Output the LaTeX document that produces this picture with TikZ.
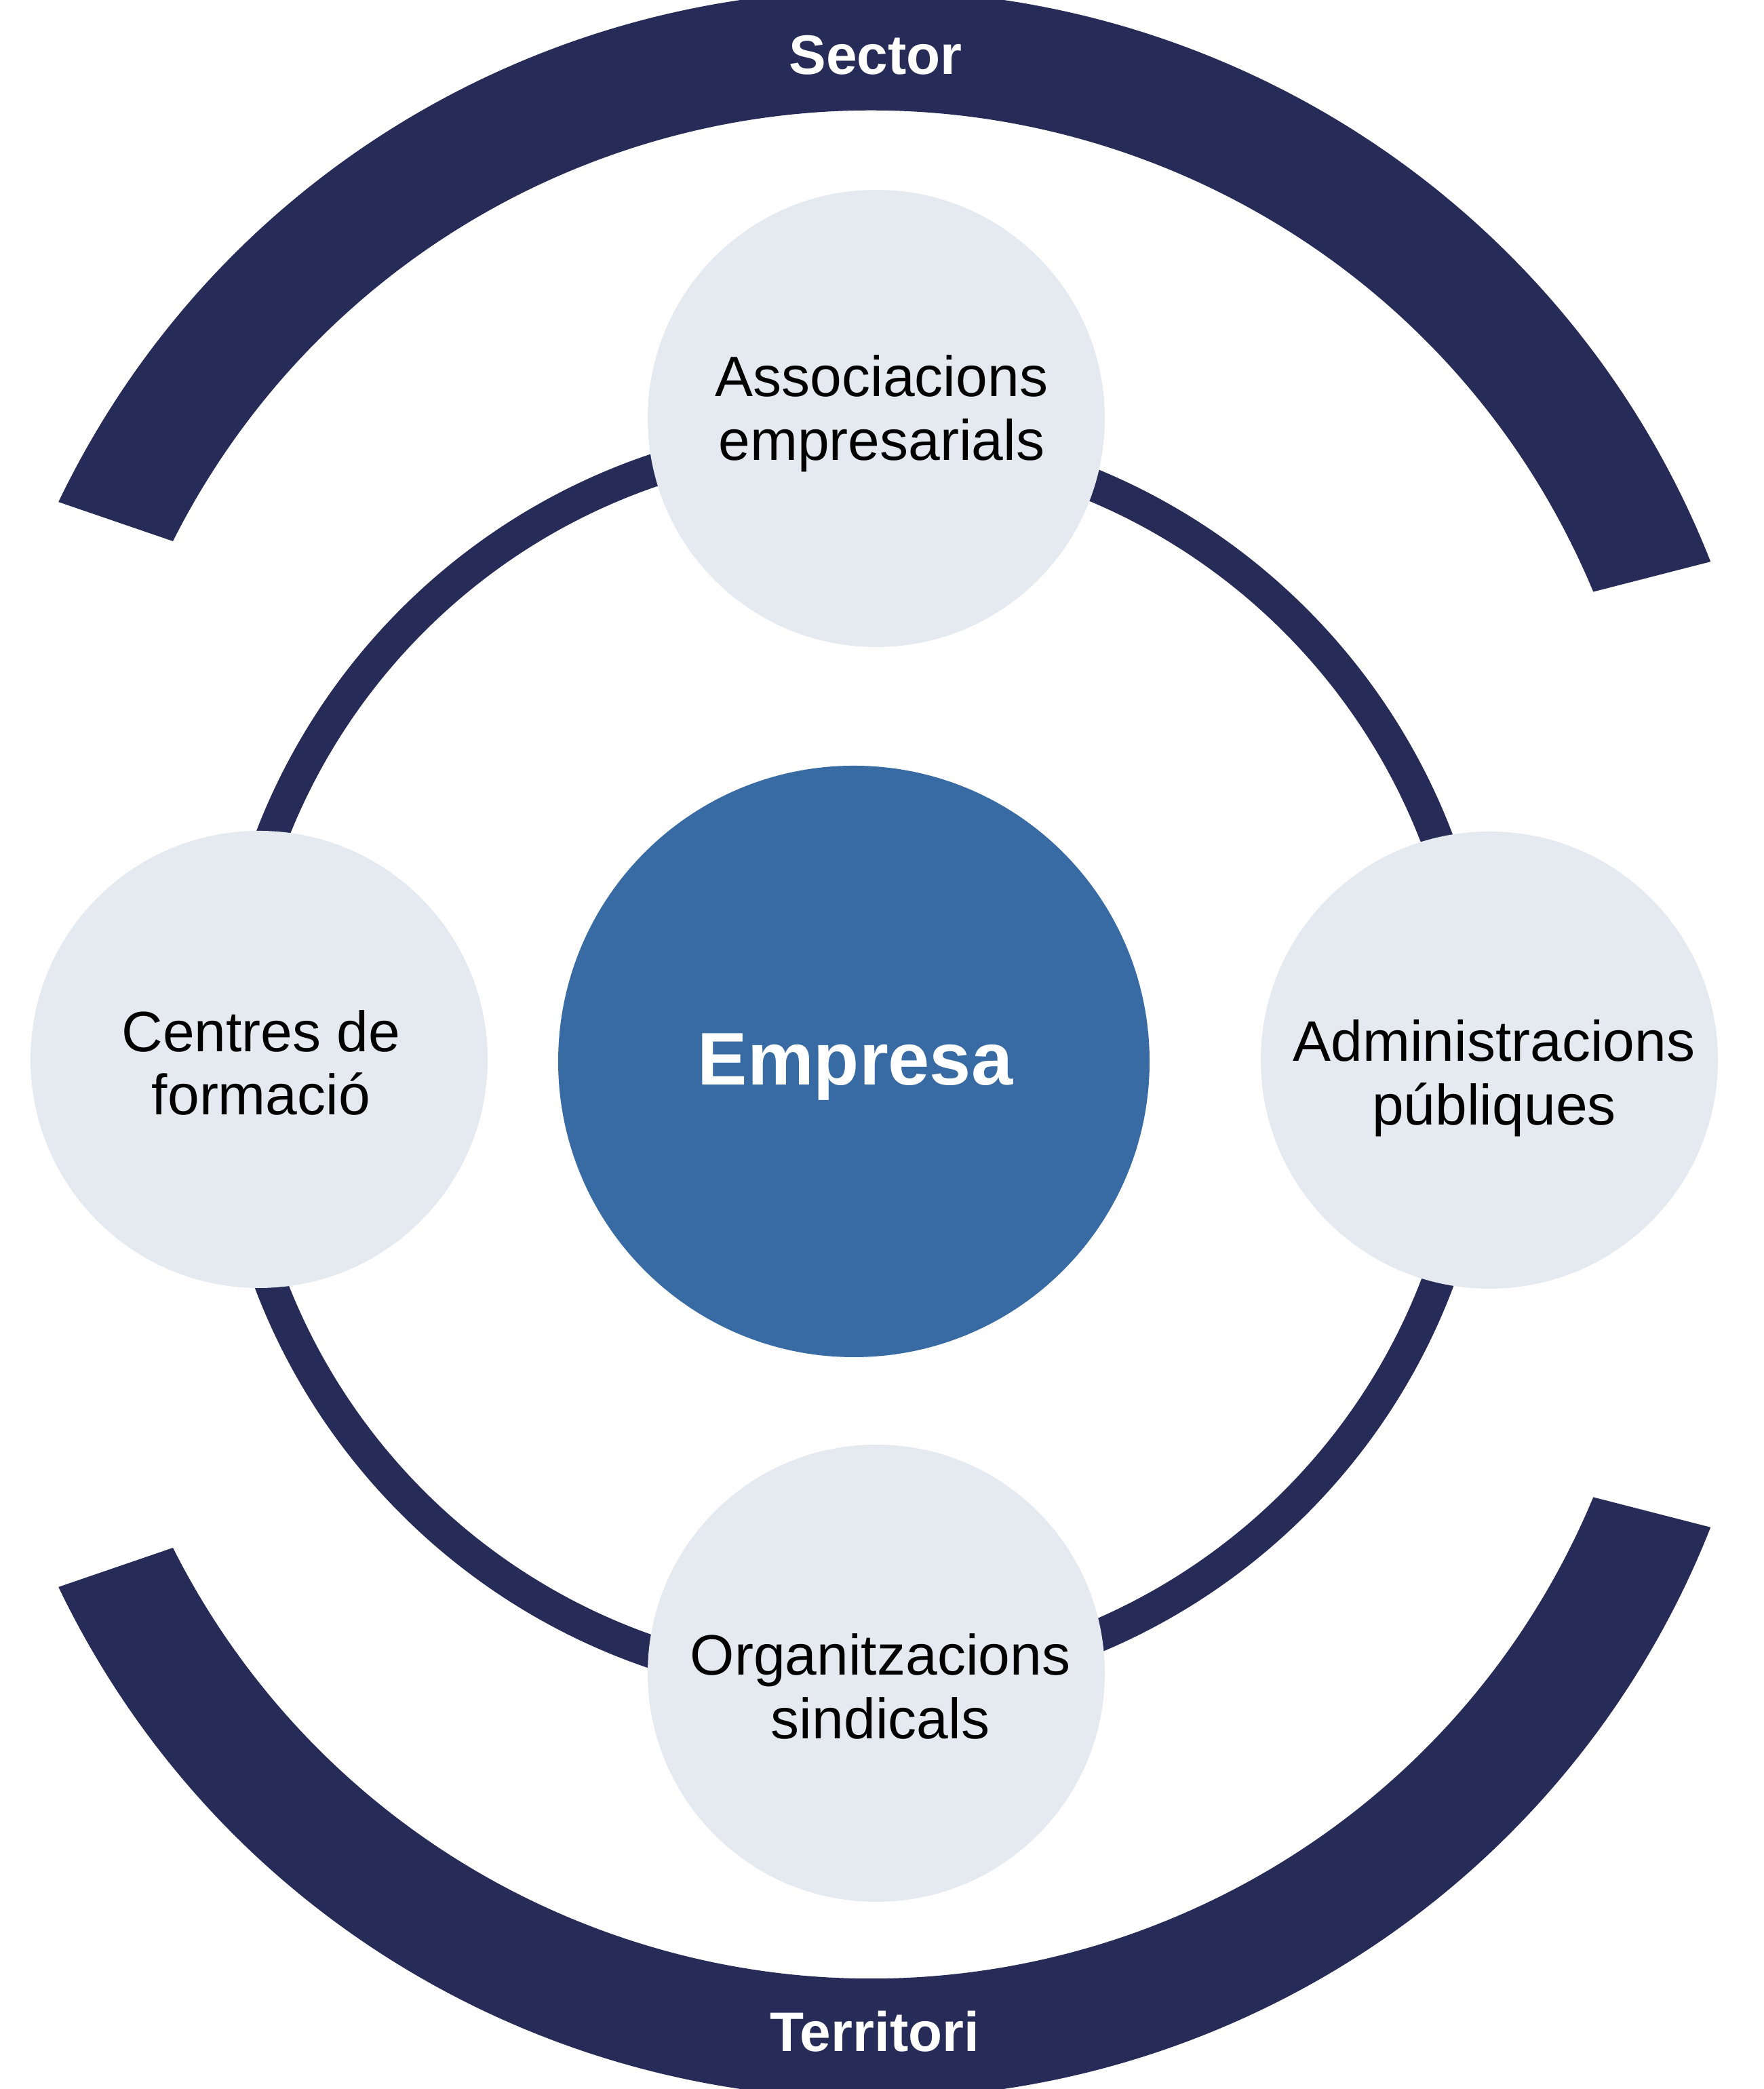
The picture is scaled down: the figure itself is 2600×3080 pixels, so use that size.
\documentclass[tikz,border=0pt]{standalone}
\usepackage{fontspec}
\setmainfont{Liberation Sans}
\definecolor{navy}{HTML}{262C57}
\definecolor{empblue}{HTML}{386BA3}
\definecolor{pale}{HTML}{E5EAF1}
\begin{document}
\begin{tikzpicture}[x=0.25pt,y=0.25pt,
  sat/.style={circle, fill=pale, minimum size=168.5pt, inner sep=0pt},
  core/.style={circle, fill=empblue, minimum size=218pt, inner sep=0pt},
  lbl/.style={anchor=base, inner sep=0pt, text=black, font=\fontsize{21pt}{23.5pt}\selectfont},
  corelbl/.style={anchor=base, inner sep=0pt, text=white, font=\fontsize{27.5pt}{30pt}\selectfont\bfseries},
  band/.style={fill=navy},
  bandlbl/.style={anchor=base, inner sep=0pt, text=white, font=\fontsize{20.5pt}{24pt}\selectfont\bfseries},
  ringline/.style={draw=navy, line width=12pt}]
\useasboundingbox (0,0) rectangle (2600,3080);
\fill[white] (0,0) rectangle (2600,3080);

% outer bands
\fill[band, shift={(1285,1764)}] (154.34:1330) arc[start angle=154.34, end angle=21.52, radius=1330]
  -- (22.62:1153) arc[start angle=22.62, end angle=153.30, radius=1153] -- cycle;
\fill[band, shift={(1285,1316)}] (205.66:1330) arc[start angle=205.66, end angle=338.48, radius=1330]
  -- (337.38:1153) arc[start angle=337.38, end angle=206.70, radius=1153] -- cycle;
\node[bandlbl] (sector) at (1291,2970) {Sector};
\node[bandlbl] (territori) at (1290,55) {Territori};

% centre
\node[core] (emp) at (1259,1515) {};
\draw[ringline] (emp.center) circle[radius=920];
\node[corelbl] (emplbl) at (1261,1480) {Empresa};

% satellites
\node[sat] (top) at (1292,2463) {};
\node[sat] (left) at (382,1518) {};
\node[sat] (right) at (2196,1517) {};
\node[sat] (bottom) at (1292,613) {};

\node[lbl] (top1) at (1300,2495) {Associacions};
\node[lbl] (top2) at (1300,2401) {empresarials};
\node[lbl] (left1) at (385,1529) {Centres de};
\node[lbl] (left2) at (385,1436) {formació};
\node[lbl] (right1) at (2203,1515) {Administracions};
\node[lbl] (right2) at (2203,1421) {públiques};
\node[lbl] (bot1) at (1298,610) {Organitzacions};
\node[lbl] (bot2) at (1298,516) {sindicals};
\end{tikzpicture}
\end{document}
